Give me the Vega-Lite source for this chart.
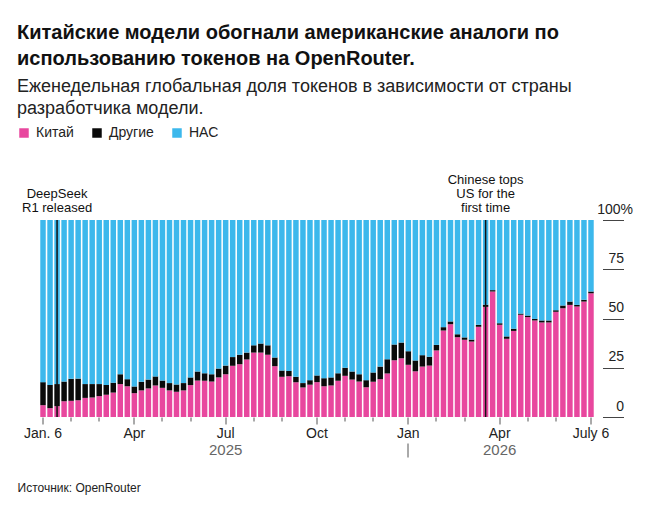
{
  "$schema": "https://vega.github.io/schema/vega-lite/v6.json",
  "width": 555,
  "height": 197,
  "autosize": {"type": "none"},
  "padding": {"left": 39.5, "top": 220, "right": 52.5, "bottom": 90},
  "background": "white",
  "config": {"view": {"stroke": null}, "font": "Liberation Sans"},
  "title": {
    "text": ["Китайские модели обогнали американские аналоги по", "использованию токенов на OpenRouter."],
    "subtitle": ["Еженедельная глобальная доля токенов в зависимости от страны", "разработчика модели."],
    "anchor": "start",
    "frame": "group",
    "dx": -22.5,
    "fontSize": 20,
    "fontWeight": "bold",
    "color": "#111111",
    "lineHeight": 26,
    "subtitleFontSize": 18,
    "subtitleColor": "#222222",
    "subtitleLineHeight": 22,
    "subtitlePadding": 8.5,
    "offset": 8.5
  },
  "datasets": {
    "shares": [
      {"week": "2025-01-06", "Китай": 6.0, "Другие": 11.7, "НАС": 82.3},
      {"week": "2025-01-13", "Китай": 4.5, "Другие": 11.8, "НАС": 83.7},
      {"week": "2025-01-20", "Китай": 5.5, "Другие": 11.2, "НАС": 83.3},
      {"week": "2025-01-27", "Китай": 8.0, "Другие": 10.0, "НАС": 82.0},
      {"week": "2025-02-03", "Китай": 8.2, "Другие": 11.2, "НАС": 80.6},
      {"week": "2025-02-10", "Китай": 8.5, "Другие": 11.0, "НАС": 80.5},
      {"week": "2025-02-17", "Китай": 9.7, "Другие": 7.0, "НАС": 83.3},
      {"week": "2025-02-24", "Китай": 9.9, "Другие": 6.8, "НАС": 83.3},
      {"week": "2025-03-03", "Китай": 10.6, "Другие": 6.1, "НАС": 83.3},
      {"week": "2025-03-10", "Китай": 11.3, "Другие": 5.0, "НАС": 83.7},
      {"week": "2025-03-17", "Китай": 12.4, "Другие": 5.0, "НАС": 82.6},
      {"week": "2025-03-24", "Китай": 16.7, "Другие": 5.0, "НАС": 78.3},
      {"week": "2025-03-31", "Китай": 15.6, "Другие": 3.6, "НАС": 80.8},
      {"week": "2025-04-07", "Китай": 12.1, "Другие": 3.4, "НАС": 84.5},
      {"week": "2025-04-14", "Китай": 13.5, "Другие": 4.4, "НАС": 82.1},
      {"week": "2025-04-21", "Китай": 14.5, "Другие": 4.5, "НАС": 81.0},
      {"week": "2025-04-28", "Китай": 16.0, "Другие": 4.6, "НАС": 79.4},
      {"week": "2025-05-05", "Китай": 14.8, "Другие": 3.7, "НАС": 81.5},
      {"week": "2025-05-12", "Китай": 13.5, "Другие": 3.7, "НАС": 82.8},
      {"week": "2025-05-19", "Китай": 12.8, "Другие": 3.7, "НАС": 83.5},
      {"week": "2025-05-26", "Китай": 13.5, "Другие": 3.7, "НАС": 82.8},
      {"week": "2025-06-02", "Китай": 16.2, "Другие": 3.9, "НАС": 79.9},
      {"week": "2025-06-09", "Китай": 18.5, "Другие": 4.6, "НАС": 76.9},
      {"week": "2025-06-16", "Китай": 18.4, "Другие": 3.8, "НАС": 77.8},
      {"week": "2025-06-23", "Китай": 18.0, "Другие": 3.7, "НАС": 78.3},
      {"week": "2025-06-30", "Китай": 20.1, "Другие": 4.5, "НАС": 75.4},
      {"week": "2025-07-07", "Китай": 21.7, "Другие": 4.4, "НАС": 73.9},
      {"week": "2025-07-14", "Китай": 26.0, "Другие": 4.4, "НАС": 69.6},
      {"week": "2025-07-21", "Китай": 26.8, "Другие": 4.8, "НАС": 68.4},
      {"week": "2025-07-28", "Китай": 29.2, "Другие": 3.5, "НАС": 67.3},
      {"week": "2025-08-04", "Китай": 32.7, "Другие": 3.7, "НАС": 63.6},
      {"week": "2025-08-11", "Китай": 32.7, "Другие": 4.6, "НАС": 62.7},
      {"week": "2025-08-18", "Китай": 31.6, "Другие": 4.8, "НАС": 63.6},
      {"week": "2025-08-25", "Китай": 25.8, "Другие": 4.4, "НАС": 69.8},
      {"week": "2025-09-01", "Китай": 20.4, "Другие": 3.2, "НАС": 76.4},
      {"week": "2025-09-08", "Китай": 20.7, "Другие": 2.7, "НАС": 76.6},
      {"week": "2025-09-15", "Китай": 17.7, "Другие": 2.7, "НАС": 79.6},
      {"week": "2025-09-22", "Китай": 15.0, "Другие": 2.2, "НАС": 82.8},
      {"week": "2025-09-29", "Китай": 16.4, "Другие": 2.3, "НАС": 81.3},
      {"week": "2025-10-06", "Китай": 17.7, "Другие": 3.4, "НАС": 78.9},
      {"week": "2025-10-13", "Китай": 15.6, "Другие": 4.1, "НАС": 80.3},
      {"week": "2025-10-20", "Китай": 16.0, "Другие": 4.1, "НАС": 79.9},
      {"week": "2025-10-27", "Китай": 18.4, "Другие": 3.8, "НАС": 77.8},
      {"week": "2025-11-03", "Китай": 20.9, "Другие": 4.1, "НАС": 75.0},
      {"week": "2025-11-10", "Китай": 19.0, "Другие": 4.1, "НАС": 76.9},
      {"week": "2025-11-17", "Китай": 18.0, "Другие": 3.7, "НАС": 78.3},
      {"week": "2025-11-24", "Китай": 15.1, "Другие": 3.6, "НАС": 81.3},
      {"week": "2025-12-01", "Китай": 17.9, "Другие": 4.7, "НАС": 77.4},
      {"week": "2025-12-08", "Китай": 19.2, "Другие": 6.4, "НАС": 74.4},
      {"week": "2025-12-15", "Китай": 22.1, "Другие": 7.2, "НАС": 70.7},
      {"week": "2025-12-22", "Китай": 28.8, "Другие": 8.0, "НАС": 63.2},
      {"week": "2025-12-29", "Китай": 29.8, "Другие": 8.0, "НАС": 62.2},
      {"week": "2026-01-05", "Китай": 26.5, "Другие": 6.9, "НАС": 66.6},
      {"week": "2026-01-12", "Китай": 23.2, "Другие": 5.5, "НАС": 71.3},
      {"week": "2026-01-19", "Китай": 25.6, "Другие": 5.8, "НАС": 68.6},
      {"week": "2026-01-26", "Китай": 26.1, "Другие": 4.5, "НАС": 69.4},
      {"week": "2026-02-02", "Китай": 33.8, "Другие": 2.8, "НАС": 63.4},
      {"week": "2026-02-09", "Китай": 43.9, "Другие": 1.7, "НАС": 54.4},
      {"week": "2026-02-16", "Китай": 47.1, "Другие": 1.4, "НАС": 51.5},
      {"week": "2026-02-23", "Китай": 40.5, "Другие": 1.5, "НАС": 58.0},
      {"week": "2026-03-02", "Китай": 39.2, "Другие": 1.2, "НАС": 59.6},
      {"week": "2026-03-09", "Китай": 38.3, "Другие": 1.0, "НАС": 60.7},
      {"week": "2026-03-16", "Китай": 45.8, "Другие": 1.0, "НАС": 53.2},
      {"week": "2026-03-23", "Китай": 55.9, "Другие": 1.1, "НАС": 43.0},
      {"week": "2026-03-30", "Китай": 63.7, "Другие": 0.7, "НАС": 35.6},
      {"week": "2026-04-06", "Китай": 46.8, "Другие": 0.8, "НАС": 52.4},
      {"week": "2026-04-13", "Китай": 39.7, "Другие": 1.2, "НАС": 59.1},
      {"week": "2026-04-20", "Китай": 43.7, "Другие": 1.1, "НАС": 55.2},
      {"week": "2026-04-27", "Китай": 51.9, "Другие": 0.6, "НАС": 47.5},
      {"week": "2026-05-04", "Китай": 50.7, "Другие": 0.8, "НАС": 48.5},
      {"week": "2026-05-11", "Китай": 49.0, "Другие": 0.8, "НАС": 50.2},
      {"week": "2026-05-18", "Китай": 48.0, "Другие": 1.0, "НАС": 51.0},
      {"week": "2026-05-25", "Китай": 48.0, "Другие": 1.0, "НАС": 51.0},
      {"week": "2026-06-01", "Китай": 53.4, "Другие": 0.8, "НАС": 45.8},
      {"week": "2026-06-08", "Китай": 55.2, "Другие": 1.4, "НАС": 43.4},
      {"week": "2026-06-15", "Китай": 56.9, "Другие": 1.7, "НАС": 41.4},
      {"week": "2026-06-22", "Китай": 56.1, "Другие": 0.8, "НАС": 43.1},
      {"week": "2026-06-29", "Китай": 58.6, "Другие": 0.9, "НАС": 40.5},
      {"week": "2026-07-06", "Китай": 62.8, "Другие": 0.9, "НАС": 36.3}
    ],
    "notes": [
      {"week": "2025-01-20", "note": ["DeepSeek", "R1 released"]},
      {"week": "2026-03-23", "note": ["Chinese tops", "US for the", "first time"]}
    ],
    "order": [
      {"country": "Китай", "rank": 0},
      {"country": "Другие", "rank": 1},
      {"country": "НАС", "rank": 2}
    ]
  },
  "layer": [
    {
      "data": {"name": "shares"},
      "transform": [
        {"fold": ["Китай", "Другие", "НАС"], "as": ["country", "share"]},
        {"lookup": "country", "from": {"data": {"name": "order"}, "key": "country", "fields": ["rank"]}}
      ],
      "mark": {"type": "bar"},
      "encoding": {
        "x": {
          "field": "week",
          "type": "ordinal",
          "scale": {"paddingInner": 0.22, "paddingOuter": 0.11},
          "axis": {
            "orient": "bottom",
            "title": null,
            "values": ["2025-01-06", "2025-02-03", "2025-03-03", "2025-04-07", "2025-05-05", "2025-06-02", "2025-07-07", "2025-08-04", "2025-09-01", "2025-10-06", "2025-11-03", "2025-12-01", "2026-01-05", "2026-02-02", "2026-03-02", "2026-04-06", "2026-05-04", "2026-06-01", "2026-07-06"],
            "labelExpr": "datum.value == '2025-01-06' ? 'Jan. 6' : datum.value == '2025-04-07' ? 'Apr' : datum.value == '2025-07-07' ? 'Jul' : datum.value == '2025-10-06' ? 'Oct' : datum.value == '2026-01-05' ? 'Jan' : datum.value == '2026-04-06' ? 'Apr' : datum.value == '2026-07-06' ? 'July 6' : ''",
            "tickSize": {"condition": {"test": "indexof(['2025-01-06','2025-04-07','2025-07-07','2025-10-06','2026-01-05','2026-04-06','2026-07-06'], datum.value) >= 0", "value": 7}, "value": 4},
            "tickColor": "#555555",
            "domain": false,
            "grid": false,
            "labelAngle": 0,
            "labelFontSize": 14,
            "labelColor": "#222222",
            "labelPadding": 2,
            "labelOverlap": false,
            "labelFlush": false
          }
        },
        "y": {
          "field": "share",
          "type": "quantitative",
          "stack": "zero",
          "scale": {"domain": [0, 100], "nice": false},
          "axis": {
            "orient": "right",
            "title": null,
            "values": [0, 25, 50, 75, 100],
            "domain": false,
            "grid": false,
            "offset": 8,
            "tickSize": 21,
            "tickColor": "#444444",
            "labelAlign": "right",
            "labelBaseline": "alphabetic",
            "labelOffset": -7,
            "labelPadding": {"condition": {"test": "datum.value == 100", "value": 9}, "value": 0},
            "labelExpr": "datum.value == 100 ? '100%' : datum.label",
            "labelFontSize": 14,
            "labelColor": "#222222",
            "labelFlush": false
          }
        },
        "color": {
          "field": "country",
          "type": "nominal",
          "scale": {"domain": ["Китай", "Другие", "НАС"], "range": ["#e8479e", "#0a0a0a", "#3cb8ec"]},
          "legend": {
            "orient": "none",
            "legendX": -22.5,
            "legendY": -94,
            "direction": "horizontal",
            "title": null,
            "symbolType": "square",
            "symbolSize": 90,
            "symbolStrokeWidth": 0,
            "labelFontSize": 14,
            "labelColor": "#222222",
            "labelOffset": 5,
            "columnPadding": 16
          }
        },
        "order": {"field": "rank", "type": "quantitative", "sort": "ascending"}
      }
    },
    {
      "data": {"name": "notes"},
      "mark": {"type": "rule", "color": "#111111", "strokeWidth": 1.5},
      "encoding": {
        "x": {
          "field": "week",
          "type": "ordinal",
          "axis": {
            "orient": "bottom",
            "values": ["2025-07-07", "2026-01-05", "2026-04-06"],
            "labelExpr": "datum.value == '2025-07-07' ? '2025' : datum.value == '2026-04-06' ? '2026' : ''",
            "domain": false,
            "grid": false,
            "offset": 26,
            "tickSize": 14,
            "tickColor": "#555555",
            "tickOpacity": {"condition": {"test": "datum.value == '2026-01-05'", "value": 1}, "value": 0},
            "labelPadding": -15,
            "labelBaseline": "top",
            "labelFontSize": 15,
            "labelColor": "#666666",
            "labelAngle": 0,
            "labelOverlap": false,
            "labelFlush": false,
            "title": "Источник: OpenRouter",
            "titleAnchor": "start",
            "titleAlign": "left",
            "titleX": -22.5,
            "titleY": 48,
            "titleBaseline": "alphabetic",
            "titleFontSize": 12,
            "titleFontWeight": "normal",
            "titleColor": "#222222"
          }
        },
        "y": {"datum": 0, "type": "quantitative"},
        "y2": {"datum": 100}
      }
    },
    {
      "data": {"name": "notes"},
      "transform": [{"filter": "datum.week == '2025-01-20'"}],
      "mark": {"type": "text", "baseline": "bottom", "align": "center", "fontSize": 13, "lineHeight": 14, "color": "#111111", "dy": -19},
      "encoding": {
        "x": {"field": "week", "type": "ordinal", "axis": null},
        "y": {"datum": 100, "type": "quantitative"},
        "text": {"field": "note"}
      }
    },
    {
      "data": {"name": "notes"},
      "transform": [{"filter": "datum.week == '2026-03-23'"}],
      "mark": {"type": "text", "baseline": "bottom", "align": "center", "fontSize": 13, "lineHeight": 14, "color": "#111111", "dy": -33},
      "encoding": {
        "x": {"field": "week", "type": "ordinal", "axis": null},
        "y": {"datum": 100, "type": "quantitative"},
        "text": {"field": "note"}
      }
    }
  ],
  "resolve": {"axis": {"x": "independent"}}
}
